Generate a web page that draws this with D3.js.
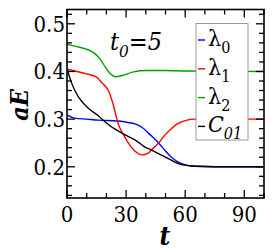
<!DOCTYPE html>
<html lang="en">
<head>
<meta charset="UTF-8">
<title>aE vs t</title>
<script src="https://cdnjs.cloudflare.com/ajax/libs/d3/7.8.5/d3.min.js"></script>
<style>
  body { margin: 0; background: #fff; }
</style>
</head>
<body>
<script>
// data
var xTicks = [0, 30, 60, 90];
var yTicks = [0.2, 0.3, 0.4, 0.5];

var lambda0 = [[0,0.309],[4,0.302],[10,0.300],[16,0.298],[26,0.296],[31,0.293],[34.5,0.290],[38,0.283],[42,0.268],[46.5,0.250],[50,0.233],[53,0.220],[56,0.211],[60,0.204],[65,0.201],[75,0.200],[100,0.200]];
var lambda1 = [[0,0.405],[5,0.400],[10,0.395],[15,0.388],[18,0.375],[21,0.360],[23.5,0.330],[26,0.290],[29,0.265],[32,0.245],[35,0.231],[38,0.225],[41,0.228],[44,0.240],[46.5,0.250],[50,0.268],[53,0.280],[56,0.290],[60,0.297],[65,0.300],[100,0.300]];
var lambda2 = [[0,0.457],[5,0.452],[9,0.448],[14,0.438],[17,0.425],[19.3,0.410],[22,0.395],[24.5,0.389],[28.6,0.392],[33.7,0.399],[40,0.402],[50,0.402],[60,0.401],[100,0.400]];
var c01 = [[0,0.405],[2.4,0.375],[5.7,0.347],[10.8,0.323],[15.9,0.307],[20,0.292],[24.4,0.279],[29,0.268],[35.4,0.254],[39,0.243],[44,0.233],[52,0.216],[57,0.206],[65,0.201],[75,0.200],[100,0.200]];

var series = [
  {name: "λ", sub: "0", color: "#0000ff", data: lambda0},
  {name: "λ", sub: "1", color: "#ff0000", data: lambda1},
  {name: "λ", sub: "2", color: "#00a000", data: lambda2},
  {name: "C", sub: "01", color: "#000000", data: c01, italic: true}
];

var W = 274, H = 252;
var L = 67, R = 264, T = 9.5, B = 198;
var FONT = "'DejaVu Serif Condensed', 'DejaVu Serif', serif";

var svg = d3.select("body").append("svg")
    .attr("width", W).attr("height", H)
    .style("font-family", FONT)
    .style("font-stretch", "condensed");

var x = d3.scaleLinear().domain([0, 100]).range([L, R]);
var y = d3.scaleLinear().domain([0.1345, 0.53]).range([B, T]);

// clip for curves
svg.append("defs").append("clipPath").attr("id", "clip")
  .append("rect").attr("x", L).attr("y", T).attr("width", R - L).attr("height", B - T);

var line = d3.line()
    .curve(d3.curveMonotoneX)
    .x(function (d) { return x(d[0]); })
    .y(function (d) { return y(d[1]); });

svg.append("g").attr("clip-path", "url(#clip)")
  .selectAll("path").data(series).enter().append("path")
    .attr("d", function (d) { return line(d.data); })
    .attr("fill", "none")
    .attr("stroke", function (d) { return d.color; })
    .attr("stroke-width", 1.4);

// ticks pointing inward on all four sides
var xMinor = d3.range(0, 101, 10);
var yMinor = d3.range(0.14, 0.531, 0.02);

function isMajorX(v) { return xTicks.indexOf(v) >= 0; }
function isMajorY(v) { return yTicks.some(function (t) { return Math.abs(t - v) < 1e-6; }); }

var ticks = svg.append("g").attr("stroke", "#000").attr("stroke-width", 1.3);
xMinor.forEach(function (v) {
  var len = isMajorX(v) ? 8 : 5;
  ticks.append("line").attr("x1", x(v)).attr("x2", x(v)).attr("y1", B).attr("y2", B - len);
  ticks.append("line").attr("x1", x(v)).attr("x2", x(v)).attr("y1", T).attr("y2", T + len);
});
yMinor.forEach(function (v) {
  var len = isMajorY(v) ? 8 : 5;
  ticks.append("line").attr("y1", y(v)).attr("y2", y(v)).attr("x1", L).attr("x2", L + len);
  ticks.append("line").attr("y1", y(v)).attr("y2", y(v)).attr("x1", R).attr("x2", R - len);
});

svg.append("rect")
    .attr("x", L).attr("y", T).attr("width", R - L).attr("height", B - T)
    .attr("fill", "none").attr("stroke", "#000").attr("stroke-width", 1.6);

// tick labels
svg.selectAll("text.xl").data(xTicks).enter().append("text")
    .attr("class", "xl")
    .attr("x", function (d) { return x(d); })
    .attr("y", 222)
    .attr("text-anchor", "middle")
    .attr("font-size", 22)
    .text(function (d) { return d; });

svg.selectAll("text.yl").data(yTicks).enter().append("text")
    .attr("class", "yl")
    .attr("x", 65)
    .attr("y", function (d) { return y(d) + 8; })
    .attr("text-anchor", "end")
    .attr("font-size", 22)
    .text(function (d) { return d.toFixed(1); });

// axis titles
svg.append("text")
    .attr("x", 165).attr("y", 245)
    .attr("text-anchor", "middle")
    .attr("font-size", 26).attr("font-weight", "bold").attr("font-style", "italic")
    .text("t");

svg.append("text")
    .attr("transform", "translate(28,105) rotate(-90)")
    .attr("text-anchor", "middle")
    .attr("font-size", 25).attr("font-weight", "bold").attr("font-style", "italic")
    .text("aE");

// t0=5 note
var note = svg.append("text").attr("x", 110).attr("y", 50)
    .attr("font-size", 25).attr("font-style", "italic");
note.append("tspan").text("t");
note.append("tspan").attr("dy", 7).attr("font-size", 17).text("0");
note.append("tspan").attr("dy", -7).text("=5");

// legend
var lg = svg.append("g");
lg.append("rect")
    .attr("x", 196).attr("y", 23.5).attr("width", 52).attr("height", 116.5)
    .attr("fill", "#fff").attr("stroke", "#999").attr("stroke-width", 1);

var items = lg.selectAll("g.item").data(series).enter().append("g")
    .attr("class", "item")
    .attr("transform", function (d, i) { return "translate(0," + (40 + i * 28.8) + ")"; });
items.append("line")
    .attr("x1", 198).attr("x2", 205).attr("y1", 0).attr("y2", 0)
    .attr("stroke", function (d) { return d.color; }).attr("stroke-width", 1.4);
var lt = items.append("text")
    .attr("x", 208).attr("y", 6)
    .attr("font-size", 23);
lt.append("tspan")
    .attr("font-style", function (d) { return d.italic ? "italic" : null; })
    .text(function (d) { return d.name; });
lt.append("tspan")
    .attr("dy", 7).attr("font-size", 16)
    .attr("font-style", function (d) { return d.italic ? "italic" : null; })
    .text(function (d) { return d.sub; });
</script>
</body>
</html>
